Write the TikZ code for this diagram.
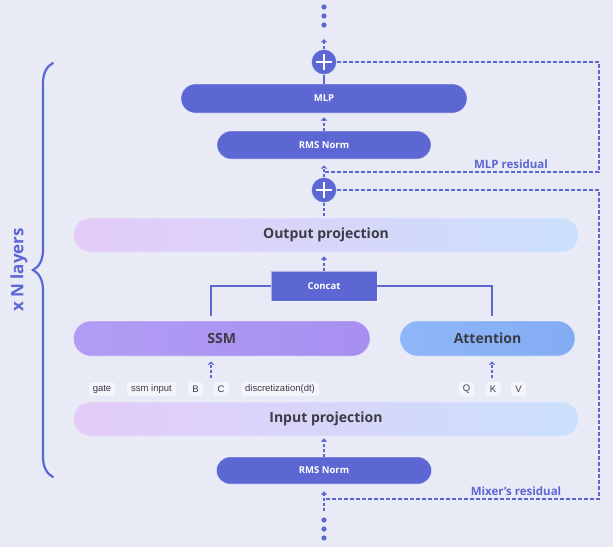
\documentclass[tikz,border=0pt]{standalone}
\usepackage{fontspec}
\setmainfont{Open Sans}
\newfontfamily\chipfont{Liberation Sans}
\usetikzlibrary{arrows.meta,shapes.misc,decorations.pathreplacing}

\definecolor{sfondo}{RGB}{232,234,246}
\definecolor{blu}{RGB}{92,103,212}
\definecolor{testo}{RGB}{60,60,72}
\definecolor{rosa}{RGB}{227,204,248}
\definecolor{celeste}{RGB}{203,224,250}
\definecolor{viola}{RGB}{178,157,245}
\definecolor{violascuro}{RGB}{166,143,240}
\definecolor{azzurro}{RGB}{142,182,248}
\definecolor{azzurroscuro}{RGB}{132,172,243}
\definecolor{chip}{RGB}{244,245,251}

\begin{document}
\begin{tikzpicture}[x=1pt,y=-1pt,
	blocco/.style={rounded rectangle, inner sep=0pt, fill=blu, draw=white, draw opacity=0.5, line width=0.6pt, text=white, font=\bfseries\fontsize{9.5}{11}\selectfont},
	proiezione/.style={rounded rectangle, inner sep=0pt, left color=rosa, right color=celeste, draw=white, draw opacity=0.4, line width=0.6pt, text=testo, font=\bfseries\fontsize{14}{16}\selectfont, minimum width=505.5pt, minimum height=34pt},
	ramo/.style={rounded rectangle, inner sep=0pt, draw=white, draw opacity=0.4, line width=0.6pt, text=testo, font=\bfseries\fontsize{14}{16}\selectfont, minimum height=35pt},
	segno/.style={circle, fill=blu, draw=white, draw opacity=0.5, line width=0.6pt, minimum size=25pt, inner sep=0pt},
	chipbox/.style={fill=chip, rounded corners=3pt, inner xsep=4pt, inner ysep=0pt, minimum height=14pt, minimum width=15pt, text=testo, font=\chipfont\fontsize{9.5}{11}\selectfont},
	etichetta/.style={text=blu, font=\bfseries\fontsize{11.5}{13}\selectfont, inner sep=1pt},
	linea/.style={blu, line width=1.2pt},
	tratteggio/.style={blu, line width=1.2pt, dash pattern=on 3pt off 2pt},
	freccia/.style={tratteggio, -{Straight Barb[length=2.5pt,width=5pt]}},
	residuo/.style={blu, line width=1.2pt, dash pattern=on 4pt off 2pt}]

		% Sfondo
		\useasboundingbox (0,0) rectangle (613,547);
		\fill[sfondo] (0,0) rectangle (613,547);

		% Blocco MLP
		\node[segno] (addtop) at (324,62) {};
		\node[blocco, minimum width=286pt, minimum height=29pt] (mlp) at (324,98.5) {MLP};
		\node[blocco, minimum width=214pt, minimum height=28pt] (normtop) at (324,145) {RMS Norm};
		\node[segno] (addmix) at (324,190) {};
		\foreach \s in {addtop,addmix} {
			\draw[white, line width=1.8pt] ([xshift=-8pt]\s.center) -- ([xshift=8pt]\s.center);
			\draw[white, line width=1.8pt] ([yshift=-8pt]\s.center) -- ([yshift=8pt]\s.center);
		}

		% Mixer
		\node[proiezione] (out) at (326,235) {Output projection};
		\node[rectangle, fill=blu, draw=white, draw opacity=0.5, line width=0.6pt, minimum width=106pt, minimum height=30pt, text=white, font=\bfseries\fontsize{9.5}{11}\selectfont] (concat) at (324,286) {Concat};
		\node[ramo, left color=viola, right color=violascuro, minimum width=296.5pt] (ssm) at (221.75,338.5) {SSM};
		\node[ramo, left color=azzurro, right color=azzurroscuro, minimum width=175pt] (att) at (487.5,338.5) {Attention};
		\foreach \nome/\x/\t in {gate/102/gate, ssmin/151.5/ssm input, b/195.5/B, c/221/C, dt/280/discretization(dt), q/466.5/Q, k/493/K, v/518.5/V}
			\node[chipbox] (\nome) at (\x,389) {\t};
		\node[proiezione] (inp) at (326,419) {Input projection};
		\node[blocco, minimum width=215pt, minimum height=27pt] (normbot) at (324,470.5) {RMS Norm};

		% Puntini
		\foreach \y in {7,16,25,520,529,538}
			\fill[blu] (324,\y) circle (2.6pt);

		% Frecce
		\coordinate (sopra) at (324,39);
		\coordinate (sotto) at (324,511);
		\coordinate (ssmtop) at (211,316);
		\coordinate (atttop) at (492,316);
		\coordinate (ssmbasso) at (211,378);
		\coordinate (attbasso) at (492,378);
		\draw[freccia] (addtop.north) -- (sopra);
		\draw[linea] (mlp.north) -- (addtop.south);
		\draw[freccia, shorten >=4pt] (normtop.north) -- (mlp.south);
		\draw[freccia, shorten >=6pt] (addmix.north) -- (normtop.south);
		\draw[tratteggio] (addmix.south) -- (addmix.south |- out.north);
		\draw[freccia, shorten >=4pt] (concat.north) -- (concat.north |- out.south);
		\draw[linea] (concat.west) -| (ssmtop);
		\draw[linea] (concat.east) -| (atttop);
		\draw[freccia, shorten >=5pt] (ssmbasso) -- (ssmbasso |- ssm.south);
		\draw[freccia, shorten >=5pt] (attbasso) -- (attbasso |- att.south);
		\draw[freccia, shorten >=2pt] (normbot.north) -- (normbot.north |- inp.south);
		\draw[freccia, shorten >=7pt] (sotto) -- (normbot.south);

		% Residui
		\coordinate (mlpres) at (599,172);
		\coordinate (mixres) at (599,499);
		\draw[residuo] (addtop.east) -| (mlpres) -- (mlpres -| addmix);
		\draw[residuo] (addmix.east) -| (mixres) -- (mixres -| normbot);
		\node[etichetta] (mlplab) at (511,164) {MLP residual};
		\node[etichetta] (mixlab) at (516,491) {Mixer’s residual};

		% Parentesi
		\draw[blu, line width=2.2pt, line cap=round, decorate, decoration={brace, amplitude=20pt}] (53,477) -- (53,63);
		\node[rotate=90, text=blu, font=\bfseries\fontsize{17}{20}\selectfont] (strati) at (19,270) {x N layers};
	\end{tikzpicture}
\end{document}
